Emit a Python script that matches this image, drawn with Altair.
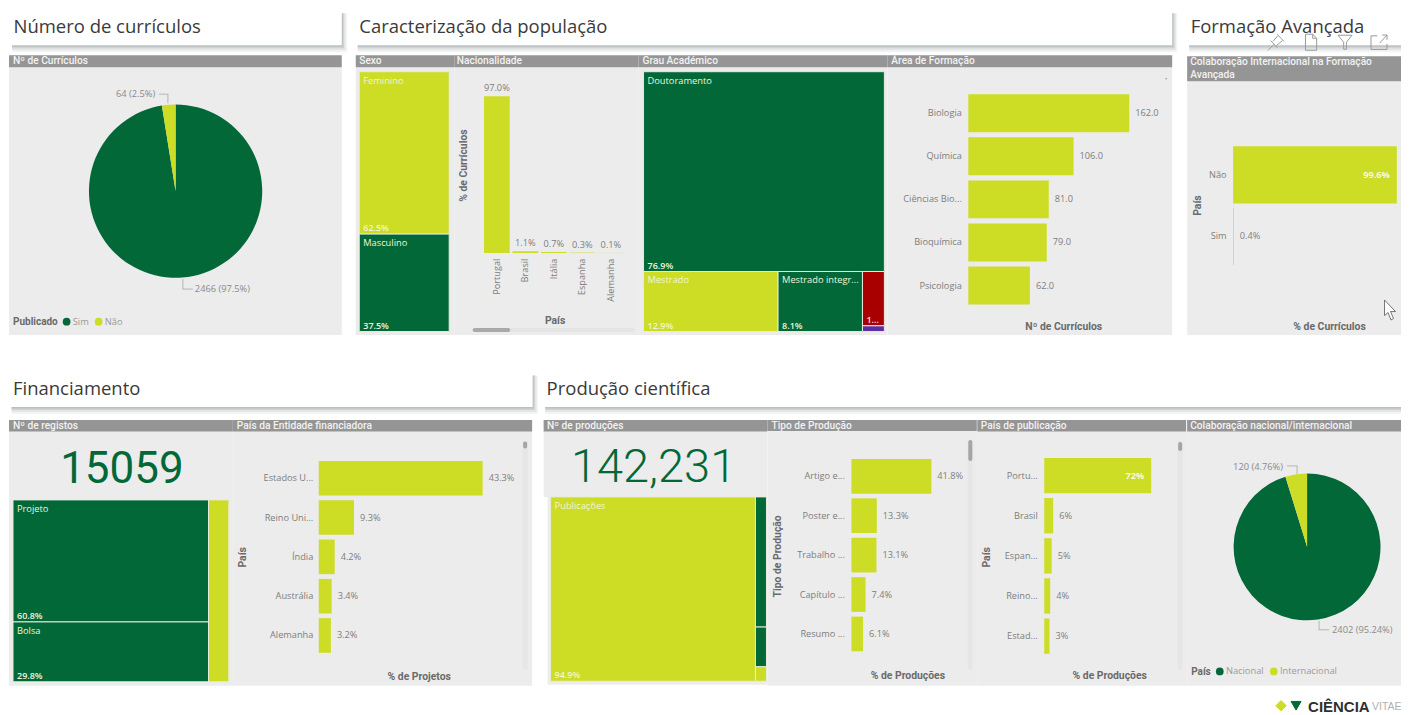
import altair as alt
import pandas as pd

GREEN = "#036838"
LIME = "#CDDC25"
RED = "#A80000"
PURPLE = "#5B2DA0"
PANEL = "#ECECEC"
HEAD = "#959595"
GREY = "#7d7d7d"
AXT = "#6a6a6a"
PALE = "#F1F5D8"
SANS = "Open Sans"
DIN = "Roboto"
XMAX = 1402  # the page's right limit for the drawing

# ---- values
pie1_names = ["Sim", "Não"]
pie1_values = [2466, 64]
sexo_names = ["Feminino", "Masculino"]
sexo_values = [62.5, 37.5]
nac_names = ["Portugal", "Brasil", "Itália", "Espanha", "Alemanha"]
nac_values = [97.0, 1.1, 0.7, 0.3, 0.1]
nac_labels = ["97.0%", "1.1%", "0.7%", "0.3%", "0.1%"]
grau_top = 76.9
grau_row = [12.9, 8.1, 2.1]
grau_small = [1.9, 0.2]
area_names = ["Biologia", "Química", "Ciências Bio...", "Bioquímica", "Psicologia"]
area_values = [162.0, 106.0, 81.0, 79.0, 62.0]
area_labels = ["162.0", "106.0", "81.0", "79.0", "62.0"]
colab_names = ["Não", "Sim"]
colab_values = [99.6, 0.4]
colab_labels = ["99.6%", "0.4%"]
fin_names = ["Estados U...", "Reino Uni...", "Índia", "Austrália", "Alemanha"]
fin_values = [43.3, 9.3, 4.2, 3.4, 3.2]
fin_labels = ["43.3%", "9.3%", "4.2%", "3.4%", "3.2%"]
reg_values = [60.8, 29.8]
reg_rest = 9.4
prod_main = 94.9
prod_side = [3.6, 1.1, 0.4]
tipo_names = ["Artigo e...", "Poster e...", "Trabalho ...", "Capítulo ...", "Resumo ..."]
tipo_values = [41.8, 13.3, 13.1, 7.4, 6.1]
tipo_labels = ["41.8%", "13.3%", "13.1%", "7.4%", "6.1%"]
pub_names = ["Portu...", "Brasil", "Espan...", "Reino...", "Estad..."]
pub_values = [72, 6, 5, 4, 3.5]
pub_labels = ["72%", "6%", "5%", "4%", "3%"]
pie2_names = ["Nacional", "Internacional"]
pie2_values = [2402, 120]

ONE = pd.DataFrame({"k": [0]})


class P:
    def __init__(self, x1, x2, y1, y2):
        self.ox, self.oy, self.w, self.h = x1, y1, x2 - x1, y2 - y1
        self.layers = []

    def box(self, x1, x2, y1, y2, color, opacity=1.0, radius=0):
        kw = {"cornerRadius": radius} if radius else {}
        x2 = min(x2, XMAX)
        self.layers.append(
            alt.Chart(ONE).mark_rect(color=color, opacity=opacity, **kw).encode(
                x=alt.value(x1 - self.ox), x2=alt.value(x2 - self.ox),
                y=alt.value(y1 - self.oy), y2=alt.value(y2 - self.oy)))

    def text(self, x, y, s, font=SANS, size=9.3, color=GREY, weight="normal",
             align="left", angle=0, clip=False):
        kw = {"angle": angle} if angle else {}
        if clip:
            kw["clip"] = True
        self.layers.append(
            alt.Chart(pd.DataFrame({"t": [s]})).mark_text(
                font=font, fontSize=size, color=color, fontWeight=weight,
                align=align, baseline="middle", **kw).encode(
                x=alt.value(x - self.ox), y=alt.value(y - self.oy), text="t:N"))

    def shape(self, x, y, path, size, stroke="#9a9a9a", fill=None, sw=1.0):
        kw = {"fill": fill, "filled": True} if fill else {"filled": False}
        self.layers.append(
            alt.Chart(ONE).mark_point(shape=path, size=size, stroke=stroke,
                                      strokeWidth=sw, opacity=1, **kw).encode(
                x=alt.value(x - self.ox), y=alt.value(y - self.oy)))

    def strip(self, x1, x2, y1, y2, title):
        for grow, op in ((7, 0.10), (5, 0.15), (3, 0.22), (1.5, 0.28)):
            self.box(x1 + 2, x2 + grow * 0.75, y1 + 3, y2 + grow, "#8d9298", op)
        self.box(x1, x2, y1, y2, "#ffffff")
        self.text(x1 + 3.5, (y1 + y2) / 2 - 0.5, title, size=18.5, color="#3a3a3a")

    def header(self, x1, x2, y1, y2, lines, tx=None):
        self.box(x1, x2, y1, y2, HEAD)
        for i, s in enumerate(lines):
            self.text((tx if tx is not None else x1 + 3), y1 + 6 + i * 12.5, s, font=DIN,
                      size=10.2, color="#f2f2f2", weight=500)

    def chart(self):
        return alt.layer(*self.layers).properties(width=self.w, height=self.h)

    def hbars(self, names, values, labels, xr, yr, lab_right, xtitle, xtitle_x, xtitle_y,
              ytitle=None, ytitle_x=0, ytitle_y=0, vmax=None, inner=(), pad=0.09):
        xs = alt.Scale(domain=[0, vmax if vmax else max(values)],
                       range=[xr[0] - self.ox, xr[1] - self.ox], nice=False)
        ys = alt.Scale(domain=names, range=[yr[0] - self.oy, yr[1] - self.oy],
                       paddingInner=pad * 1.33, paddingOuter=0)
        df = pd.DataFrame({"c": names, "v": values, "l": labels})
        ykw = dict(orient="left", offset=-(lab_right - self.ox), labelPadding=0, ticks=False,
                   domain=False, grid=False, labelFont=SANS, labelFontSize=9.2,
                   labelColor=GREY, labelLimit=100, zindex=1)
        if ytitle:
            ykw.update(titleX=ytitle_x - lab_right, titleY=ytitle_y - self.oy, titleAngle=270,
                       titleAlign="center", titleBaseline="middle", titleFont=DIN,
                       titleFontSize=10.4, titleFontWeight="bold", titleColor=AXT)
        xaxis = alt.Axis(labels=False, ticks=False, domain=False, grid=False, zindex=1,
                         titleX=xtitle_x - self.ox, titleY=xtitle_y - (self.oy + self.h),
                         titleAlign="center", titleBaseline="middle", titleFont=DIN,
                         titleFontSize=10.4, titleFontWeight="bold", titleColor=AXT)
        x = alt.X("v:Q", scale=xs, axis=xaxis, title=xtitle)
        y = alt.Y("c:N", scale=ys, sort=None, axis=alt.Axis(**ykw), title=ytitle)
        self.layers.append(alt.Chart(df).mark_bar(color=LIME).encode(x=x, y=y))
        out = df[~df["c"].isin(inner)]
        ins = df[df["c"].isin(inner)]
        if len(out):
            self.layers.append(alt.Chart(out).mark_text(
                align="left", dx=6, font=SANS, fontSize=9.2, color=GREY).encode(x=x, y=y, text="l:N"))
        if len(ins):
            self.layers.append(alt.Chart(ins).mark_text(
                align="right", dx=-7, font=SANS, fontSize=9.2, color="#f6f8e0",
                fontWeight="bold").encode(x=x, y=y, text="l:N"))

    def treemap(self, cells, xr, yr):
        df = pd.DataFrame(cells, columns=["x0", "x1", "y0", "y1", "fill", "name", "pct", "ink"])
        xs = alt.Scale(domain=[0, 1], range=[xr[0] - self.ox, xr[1] - self.ox], nice=False)
        ys = alt.Scale(domain=[0, 1], range=[yr[0] - self.oy, yr[1] - self.oy], nice=False)
        xa = alt.X("x0:Q", scale=xs, axis=None)
        self.layers.append(alt.Chart(df).mark_rect(stroke="#e6ebdc", strokeWidth=1).encode(
            x=xa, x2="x1:Q", y=alt.Y("y0:Q", scale=ys, axis=None), y2="y1:Q",
            fill=alt.Fill("fill:N", scale=None)))
        self.layers.append(alt.Chart(df[df["name"] != ""]).mark_text(
            align="left", baseline="top", dx=4, dy=5, font=SANS, fontSize=9.3).encode(
            x=xa, y=alt.Y("y0:Q", scale=ys, axis=None), text="name:N",
            color=alt.Color("ink:N", scale=None)))
        self.layers.append(alt.Chart(df[df["pct"] != ""]).mark_text(
            align="left", baseline="bottom", dx=4, dy=-1, font=SANS, fontSize=9, fontWeight=600).encode(
            x=xa, y=alt.Y("y1:Q", scale=ys, axis=None), text="pct:N",
            color=alt.Color("ink:N", scale=None)))

    def pie(self, names, values, cx, cy, r, legend_title, lx, ly):
        df = pd.DataFrame({"c": names, "v": values, "o": range(len(names))})
        self.layers.append(alt.Chart(df).mark_arc(radius=r).encode(
            x=alt.value(cx - self.ox), y=alt.value(cy - self.oy),
            theta=alt.Theta("v:Q", stack=True),
            order=alt.Order("o:Q"),
            color=alt.Color("c:N", sort=None,
                            scale=alt.Scale(domain=names, range=[GREEN, LIME]),
                            legend=alt.Legend(
                                orient="none", legendX=lx - self.ox, legendY=ly - self.oy,
                                direction="horizontal", title=legend_title, titleOrient="left",
                                titleFont=DIN, titleFontSize=10, titleFontWeight="bold",
                                titleColor=AXT, titlePadding=4, labelFont=SANS, labelFontSize=9.3,
                                labelColor="#9a9a9a", labelOffset=1.5, symbolType="circle",
                                symbolSize=60, symbolStrokeWidth=0, columnPadding=5,
                                padding=0, zindex=1))))


def slices(shares, x0, x1, y0, y1, vertical):
    total = sum(shares)
    out, pos = [], 0.0
    for s in shares:
        a, b = pos / total, (pos + s) / total
        pos += s
        if vertical:
            out.append((x0, x1, y0 + a * (y1 - y0), y0 + b * (y1 - y0)))
        else:
            out.append((x0 + a * (x1 - x0), x0 + b * (x1 - x0), y0, y1))
    return out


# ---------------- ROW 1
T1, B1 = 8, 335
T2, B2 = 368, 686
a = P(8, 356, T1, T2)
a.strip(10, 342, 10, 45, "Número de currículos")
a.box(9, 342, 67, B1, PANEL)
a.header(9, 342, 55, 67, ["Nº de Currículos"], tx=13)
a.pie(pie1_names, pie1_values, 175.7, 191, 86.7, "Publicado", 13, 317)
a.text(116, 94, "64 (2.5%)", color="#8a8a8a")
a.box(159, 168.5, 93.5, 94.5, "#b5b5b5")
a.box(167.5, 168.5, 94, 103, "#b5b5b5")
a.text(195, 289, "2466 (97.5%)", color="#8a8a8a")
a.box(182.5, 183.5, 279, 289.5, "#b5b5b5")
a.box(183, 193, 288.5, 289.5, "#b5b5b5")

b = P(356, 455, T1, T2)
b.strip(356, 1173, 10, 45, "Caracterização da população")
b.box(356, 455, 67, B1, PANEL)
b.header(356, 455, 55, 67, ["Sexo"], tx=359.5)
r = slices(sexo_values, 0, 1, 0, 1, True)
b.treemap([r[0] + (LIME, sexo_names[0], "62.5%", PALE),
           r[1] + (GREEN, sexo_names[1], "37.5%", PALE)], (359.5, 449.5), (71.5, 331.5))

c = P(455, 639, T1, T2)
c.box(455, 639, 67, B1, PANEL)
c.header(455, 639, 55, 67, ["Nacionalidade"], tx=457)
cdf = pd.DataFrame({"c": nac_names, "v": nac_values, "l": nac_labels})
cxs = alt.Scale(domain=nac_names, range=[483.5 - c.ox, 625 - c.ox], paddingInner=0.1, paddingOuter=0.03)
cys = alt.Scale(domain=[0, 97], range=[253 - c.oy, 96 - c.oy], nice=False)
cx = alt.X("c:N", scale=cxs, sort=None, title="País", axis=alt.Axis(
    orient="bottom", offset=258 - T2, labelAngle=270, labelAlign="right", labelBaseline="middle",
    labelPadding=0, ticks=False, domain=False, grid=False, labelFont=SANS, labelFontSize=9.2, zindex=1,
    labelColor=GREY, titleX=555 - c.ox, titleY=320 - 258, titleAlign="center", titleBaseline="middle",
    titleFont=DIN, titleFontSize=10.4, titleFontWeight="bold", titleColor=AXT))
cy = alt.Y("v:Q", scale=cys, title="% de Currículos", axis=alt.Axis(
    labels=False, ticks=False, domain=False, grid=False, titleX=463.5 - c.ox, titleY=165 - c.oy, zindex=1,
    titleAngle=270, titleAlign="center", titleBaseline="middle", titleFont=DIN, titleFontSize=10.4,
    titleFontWeight="bold", titleColor=AXT))
c.layers.append(alt.Chart(cdf).mark_bar(color=LIME).encode(x=cx, y=cy))
c.layers.append(alt.Chart(cdf).mark_text(dy=-8, font=SANS, fontSize=9.2, color=GREY).encode(x=cx, y=cy, text="l:N"))
c.box(473, 635, 328, 332, "#e4e4e4", radius=2)
c.box(473, 510.5, 328, 332, "#a9a9a9", radius=2)

d = P(639, 888, T1, T2)
d.box(639, 888, 67, B1, PANEL)
d.header(639, 888, 55, 67, ["Grau Académico"], tx=643)
gtotal = grau_top + sum(grau_row)
gsplit = grau_top / gtotal
g = slices(grau_row, 0, 1, gsplit, 1, False)
gs = slices(grau_small, g[2][0], g[2][1], gsplit, 1, True)
d.treemap([(0, 1, 0, gsplit, GREEN, "Doutoramento", "76.9%", PALE),
           g[0] + (LIME, "Mestrado", "12.9%", PALE),
           g[1] + (GREEN, "Mestrado integr...", "8.1%", PALE),
           gs[0] + (RED, "", "1...", "#f6e6e6"),
           gs[1] + (PURPLE, "", "", PALE)], (644, 885), (71.5, 331.5))

e = P(888, 1188, T1, T2)
e.box(888, 1173, 67, B1, PANEL)
e.header(888, 1173, 55, 67, ["Área de Formação"], tx=892)
e.hbars(area_names, area_values, area_labels, (969, 1130), (94, 304.5), 962,
        "Nº de Currículos", 1064, 326)
e.box(1166, 1168, 78, 79, "#9a9a9a")

f = P(1188, XMAX, T1, T2)
f.strip(1188, XMAX, 10, 45, "Formação Avançada")
f.box(1188, XMAX, 81, B1, PANEL)
f.header(1188, XMAX, 56, 81, ["Colaboração Internacional na Formação", "Avançada"], tx=1191)
f.hbars(colab_names, colab_values, colab_labels, (1234, 1398.5), (146, 265), 1227,
        "% de Currículos", 1330, 326, ytitle="País", ytitle_x=1198, ytitle_y=205,
        vmax=100, inner=("Não",), pad=0.05)
f.shape(1277, 42, "M-1,1 L-0.25,0.25 M-0.7,-0.2 L0.2,0.7 M-0.4,-0.1 L0.2,-0.8 M0.05,0.4 L0.8,-0.2 M0.1,-1 L1,-0.1", 256)
f.shape(1312, 42, "M-0.7,-1 L0.2,-1 L0.7,-0.5 L0.7,1 L-0.7,1 Z M0.2,-1 L0.2,-0.5 L0.7,-0.5", 256)
f.shape(1346, 42, "M-1,-1 L1,-1 L0.2,0 L0.2,1 L-0.2,1 L-0.2,0 Z", 196)
f.shape(1380, 42, "M-0.2,-0.8 L-1,-0.8 L-1,0.9 L1,0.9 L1,0.2 M0.1,0.1 L1,-0.9 M0.4,-0.9 L1,-0.9 L1,-0.3", 256)
f.shape(1391, 310, "M-0.55,-1 L-0.55,0.55 L-0.2,0.25 L0.1,1 L0.35,0.85 L0.05,0.15 L0.55,0.15 Z", 400,
        stroke="#555555", fill="#ffffff", sw=0.8)

# ---------------- ROW 2
g1 = P(8, 233, T2, B2)
g1.strip(9.5, 533, 372.5, 407, "Financiamento")
g1.box(9, 233, 431, B2, PANEL)
g1.header(9, 233, 420, 431.5, ["Nº de registos"], tx=13)
g1.text(122, 470, "15059", font=DIN, size=44, color=GREEN, align="center")
fc = slices([sum(reg_values), reg_rest], 0, 1, 0, 1, False)
fr = slices(reg_values, fc[0][0], fc[0][1], 0, 1, True)
g1.treemap([fr[0] + (GREEN, "Projeto", "60.8%", PALE),
            fr[1] + (GREEN, "Bolsa", "29.8%", PALE),
            fc[1] + (LIME, "", "", PALE)], (13, 229), (500, 682))

h1 = P(233, 544, T2, B2)
h1.box(233, 532.5, 431, B2, PANEL)
h1.header(233, 532.5, 420, 431.5, ["País da Entidade financiadora"], tx=237)
h1.hbars(fin_names, fin_values, fin_labels, (319, 483), (461, 653), 313,
         "% de Projetos", 419, 677, ytitle="País", ytitle_x=243, ytitle_y=557)
h1.box(523, 528, 441, 670, "#e6e6e6", radius=2)
h1.box(523.5, 527.5, 441.5, 448.5, "#a5a5a5", radius=2)

i1 = P(544, 768, T2, B2)
i1.strip(543.5, XMAX, 372.5, 407, "Produção científica")
i1.box(544, 768, 431, 497, PANEL)
i1.box(548, 768, 497, 685, PANEL)
i1.header(544, 768, 420, 431.5, ["Nº de produções"], tx=547.5)
i1.text(654, 468, "142,231", font=DIN, size=47, color=GREEN, align="center", weight=300)
pc = slices([prod_main, sum(prod_side)], 0, 1, 0, 1, False)
ps = slices(prod_side, pc[1][0], pc[1][1], 0, 1, True)
i1.treemap([pc[0] + (LIME, "Publicações", "94.9%", PALE),
            ps[0] + (GREEN, "", "", PALE),
            ps[1] + (GREEN, "", "", PALE),
            ps[2] + (LIME, "", "", PALE)], (551, 767), (497, 681.5))

j1 = P(768, 978, T2, B2)
j1.box(768, 978, 431, B2, PANEL)
j1.header(768, 977.5, 420, 431, ["Tipo de Produção"], tx=772)
j1.hbars(tipo_names, tipo_values, tipo_labels, (852, 932), (459, 651.5), 845,
         "% de Produções", 908, 676, ytitle="Tipo de Produção", ytitle_x=778, ytitle_y=556)
j1.box(968.5, 973.5, 440, 670, "#e6e6e6", radius=2)
j1.box(969, 973, 440, 461, "#a5a5a5", radius=2)

k1 = P(978, 1188, T2, B2)
k1.box(978, 1188, 431, B2, PANEL)
k1.header(978, 1187, 420, 431.5, ["País de publicação"], tx=981.5)
k1.hbars(pub_names, pub_values, pub_labels, (1045, 1152), (458, 654), 1038,
         "% de Produções", 1110, 676, ytitle="País", ytitle_x=987, ytitle_y=557, inner=("Portu...",))
k1.box(1178.5, 1183.5, 441, 670, "#e6e6e6", radius=2)
k1.box(1179, 1183, 442, 451, "#a5a5a5", radius=2)

l1 = P(1188, XMAX, T2, B2)
l1.box(1188, XMAX, 431, B2, PANEL)
l1.header(1188, XMAX, 420, 431.5, ["Colaboração nacional/internacional"], tx=1191)
l1.pie(pie2_names, pie2_values, 1308, 547, 73.5, "País", 1192, 667)
l1.text(1234, 467, "120 (4.76%)", color="#8a8a8a")
l1.box(1288, 1298.5, 465.5, 466.5, "#b5b5b5")
l1.box(1297.5, 1298.5, 466, 474, "#b5b5b5")
l1.text(1333, 630, "2402 (95.24%)", color="#8a8a8a")
l1.box(1319.5, 1320.5, 621, 630.5, "#b5b5b5")
l1.box(1320, 1330, 629.5, 630.5, "#b5b5b5")

# ---------------- ROW 3 (logo)
m = P(8, XMAX, B2, 715)
m.shape(1282, 706, "diamond", 110, stroke=LIME, fill=LIME)
m.shape(1297, 706, "triangle-down", 100, stroke=GREEN, fill=GREEN)
m.text(1309, 707, "CIÊNCIA", font="Liberation Sans", size=15, color="#2f2f2f", weight="bold")
m.text(1373, 707, "VITAE", font="Liberation Sans", size=10.5, color="#b0b0b0")

row1 = alt.hconcat(a.chart(), b.chart(), c.chart(), d.chart(), e.chart(), f.chart(), spacing=0, bounds="flush").resolve_scale(color="independent")
row2 = alt.hconcat(g1.chart(), h1.chart(), i1.chart(), j1.chart(), k1.chart(), l1.chart(), spacing=0, bounds="flush").resolve_scale(color="independent")
chart = alt.vconcat(row1, row2, m.chart(), spacing=0).resolve_scale(color="independent").properties(padding=0, background="#ffffff").configure_view(stroke=None)
chart.save("out.html", embed_options={"renderer": "svg", "actions": False})
